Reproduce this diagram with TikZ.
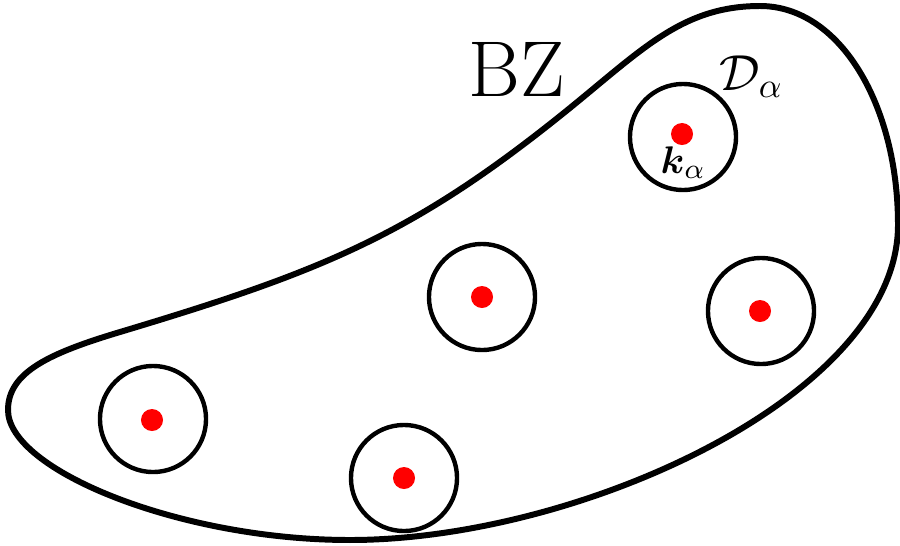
\documentclass[tikz,border=0pt]{standalone}
\usepackage{amsmath}
\begin{document}
\begin{tikzpicture}[x=0.01cm,y=-0.01cm,
  zone/.style={circle,draw=black,line width=1.25pt,minimum size=1.06cm,inner sep=0pt},
  kpt/.style={circle,fill=red,minimum size=0.22cm,inner sep=0pt},
  outline/.style={line width=1.7pt,line join=round}]
\useasboundingbox (0,0) rectangle (900,545);
% Brillouin zone outline
\coordinate (L) at (8,410);
\coordinate (B) at (350,540);
\coordinate (R) at (898,225);
\coordinate (T) at (760,6);
\coordinate (M) at (560,116);
\coordinate (N) at (120,332);
\draw[outline] (L) .. controls (8,470) and (180,540) .. (B)
  .. controls (580,540) and (898,395) .. (R)
  .. controls (898,105) and (840,6) .. (T)
  .. controls (680,6) and (640,52) .. (M)
  .. controls (410,236) and (320,272) .. (N)
  .. controls (50,353) and (8,372) .. (L) -- cycle;
% Disks
\node[zone] (d1) at (683,137) {};
\node[zone] (d2) at (482,297) {};
\node[zone] (d3) at (761,311) {};
\node[zone] (d4) at (153,419) {};
\node[zone] (d5) at (404,478) {};
% Points
\node[kpt] (k1) at (682,134) {};
\node[kpt] (k2) at (482,297) {};
\node[kpt] (k3) at (760,311) {};
\node[kpt] (k4) at (152,420) {};
\node[kpt] (k5) at (404,478) {};
% Labels
\node[anchor=base,inner sep=0pt,font=\fontsize{22.5}{27}\selectfont] (bz) at (517,96) {BZ};
\node[anchor=base west,inner sep=0pt,font=\fontsize{14}{17}\selectfont] (dl) at (719,90) {$\mathcal{D}_\alpha$};
\node[anchor=base west,inner sep=0pt,font=\fontsize{11}{13}\selectfont] (kl) at (660,173) {$\boldsymbol{k}_\alpha$};
\end{tikzpicture}
\end{document}
